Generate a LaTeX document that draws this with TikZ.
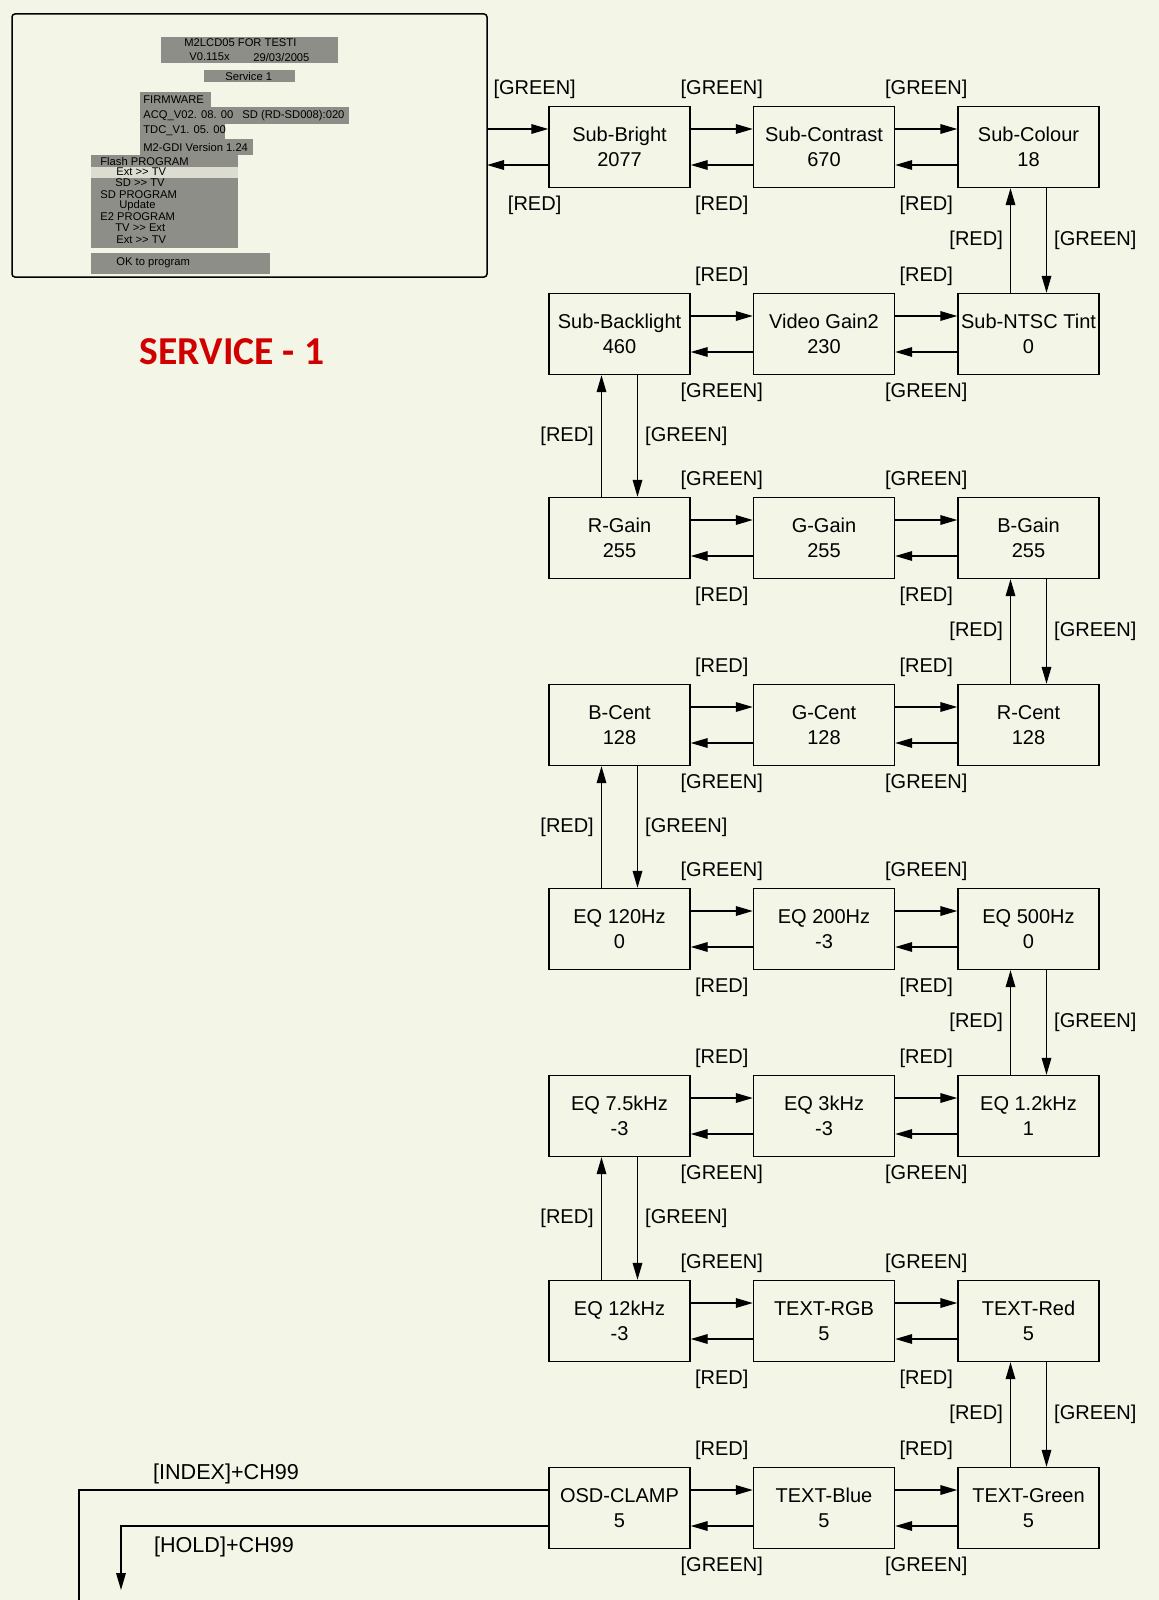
\documentclass[tikz,border=0pt]{standalone}
\usepackage{fontspec}
\setmainfont{Liberation Sans}
\newfontfamily\titlefont{Carlito}
\usetikzlibrary{arrows.meta, positioning, calc}
\definecolor{paper}{HTML}{F3F5E6}
\definecolor{osdgray}{HTML}{8E8E88}
\definecolor{osdlight}{HTML}{DCDDD0}
\definecolor{servred}{HTML}{D00000}

\begin{document}
\begin{tikzpicture}[x=0.5pt, y=-0.5pt,
    menu/.style={draw, line width=0.7pt, minimum width=70.5pt, minimum height=40.5pt, inner sep=1pt, align=center, font=\fontsize{10}{12.5}\selectfont},
    key/.style={font=\fontsize{10}{12}\selectfont, inner sep=0pt},
    osd/.style={font=\fontsize{5.6}{6}\selectfont, inner sep=0pt, anchor=west},
    arr/.style={line width=0.7pt, -{Triangle[length=8.5pt,width=4.8pt]}}]
      \fill[paper] (0,0) rectangle (1159,1600);
      \useasboundingbox (0,0) rectangle (1159,1600);

      % service screen
      \node[draw, line width=0.75pt, rounded corners=1.5pt, minimum width=237.5pt, minimum height=131.5pt, inner sep=0pt] (screen) at (249.5,145.5) {};
      \fill[osdgray] (161,37) rectangle (338,63);
      \fill[osdgray] (204,70) rectangle (295,82);
      \fill[osdgray] (140,92) rectangle (211,107);
      \fill[osdgray] (140,107) rectangle (349,124);
      \fill[osdgray] (140,124) rectangle (225,139);
      \fill[osdgray] (140,139) rectangle (253,155);
      \fill[osdgray] (91,155) rectangle (238,248);
      \fill[osdlight] (91,167) rectangle (238,178);
      \fill[osdgray] (91,253) rectangle (270,274);
      \foreach \x/\y/\t [count=\n] in {184/43/{M2LCD05 FOR TESTI}, 189/57/{V0.115x}, 253/57/{29/03/2005},
          225/76/{Service 1}, 143/100/{FIRMWARE}, 143/116/{ACQ\_V02. 08. 00}, 242/116/{SD (RD-SD008):020},
          143/131/{TDC\_V1. 05. 00}, 143/147/{M2-GDI Version 1.24}, 100/161/{Flash PROGRAM},
          116/172/{Ext {>}{>} TV}, 115/183/{SD {>}{>} TV}, 100/195/{SD PROGRAM}, 119/206/{Update},
          100/217/{E2 PROGRAM}, 115/228/{TV {>}{>} Ext}, 116/240/{Ext {>}{>} TV}, 116/263/{OK to program}}
        \node[osd] (osd\n) at (\x,\y) {\t};

      \node[text=servred, font=\titlefont\bfseries\fontsize{19.8}{22}\selectfont] (title) at (232,352) {SERVICE - 1};

      % menu items
      \node[menu] (bright) at (619.5,147) {Sub-Bright\\2077};
      \node[menu] (contrast) at (824,147) {Sub-Contrast\\670};
      \node[menu] (colour) at (1028.5,147) {Sub-Colour\\18};
      \node[menu] (backlight) at (619.5,334) {Sub-Backlight\\460};
      \node[menu] (gaintwo) at (824,334) {Video Gain2\\230};
      \node[menu] (tint) at (1028.5,334) {Sub-NTSC Tint\\0};
      \node[menu] (rgain) at (619.5,538) {R-Gain\\255};
      \node[menu] (ggain) at (824,538) {G-Gain\\255};
      \node[menu] (bgain) at (1028.5,538) {B-Gain\\255};
      \node[menu] (bcent) at (619.5,725) {B-Cent\\128};
      \node[menu] (gcent) at (824,725) {G-Cent\\128};
      \node[menu] (rcent) at (1028.5,725) {R-Cent\\128};
      \node[menu] (eqa) at (619.5,929) {EQ 120Hz\\0};
      \node[menu] (eqb) at (824,929) {EQ 200Hz\\-3};
      \node[menu] (eqc) at (1028.5,929) {EQ 500Hz\\0};
      \node[menu] (eqf) at (619.5,1116) {EQ 7.5kHz\\-3};
      \node[menu] (eqe) at (824,1116) {EQ 3kHz\\-3};
      \node[menu] (eqd) at (1028.5,1116) {EQ 1.2kHz\\1};
      \node[menu] (eqg) at (619.5,1321) {EQ 12kHz\\-3};
      \node[menu] (textrgb) at (824,1321) {TEXT-RGB\\5};
      \node[menu] (textred) at (1028.5,1321) {TEXT-Red\\5};
      \node[menu] (clamp) at (619.5,1508) {OSD-CLAMP\\5};
      \node[menu] (textblue) at (824,1508) {TEXT-Blue\\5};
      \node[menu] (textgreen) at (1028.5,1508) {TEXT-Green\\5};

      % from / to the screen
      \coordinate (scrhi) at (487,129);
      \coordinate (scrlo) at (487,165);
      \draw[arr] (scrhi) -- node[key, midway, yshift=20pt, xshift=8.5pt] {[GREEN]} ([yshift=9pt]bright.west);
      \draw[arr] ([yshift=-9pt]bright.west) -- node[key, midway, yshift=-20pt, xshift=8.5pt] {[RED]} (scrlo);

      % along the rows
      \foreach \a/\b/\up/\dn in {bright/contrast/GREEN/RED, contrast/colour/GREEN/RED,
          backlight/gaintwo/RED/GREEN, gaintwo/tint/RED/GREEN, rgain/ggain/GREEN/RED, ggain/bgain/GREEN/RED,
          bcent/gcent/RED/GREEN, gcent/rcent/RED/GREEN, eqa/eqb/GREEN/RED, eqb/eqc/GREEN/RED,
          eqf/eqe/RED/GREEN, eqe/eqd/RED/GREEN, eqg/textrgb/GREEN/RED, textrgb/textred/GREEN/RED,
          clamp/textblue/RED/GREEN, textblue/textgreen/RED/GREEN} {
        \draw[arr] ([yshift=9pt]\a.east) -- node[key, midway, yshift=20pt] {[\up]} ([yshift=9pt]\b.west);
        \draw[arr] ([yshift=-9pt]\b.west) -- node[key, midway, yshift=-20pt] {[\dn]} ([yshift=-9pt]\a.east);
      }

      % between the rows
      \foreach \a/\b in {colour/tint, backlight/rgain, bgain/rcent, bcent/eqa, eqc/eqd, eqf/eqg, textred/textgreen} {
        \draw[arr] ([xshift=-9pt]\b.north) -- node[key, midway, left=3.5pt] {[RED]} ([xshift=-9pt]\a.south);
        \draw[arr] ([xshift=9pt]\a.south) -- node[key, midway, right=3.5pt] {[GREEN]} ([xshift=9pt]\b.north);
      }

      % exit
      \coordinate (idxend) at (79,1600);
      \coordinate (holdend) at (121,1590);
      \draw[line width=0.7pt] ([yshift=9pt]clamp.west) -| (idxend);
      \draw[arr] ([yshift=-9pt]clamp.west) -| (holdend);
      \node[key, font=\fontsize{10.8}{12}\selectfont] (index) at (226,1474) {[INDEX]+CH99};
      \node[key, font=\fontsize{10.8}{12}\selectfont] (hold) at (224,1547) {[HOLD]+CH99};
\end{tikzpicture}
\end{document}
